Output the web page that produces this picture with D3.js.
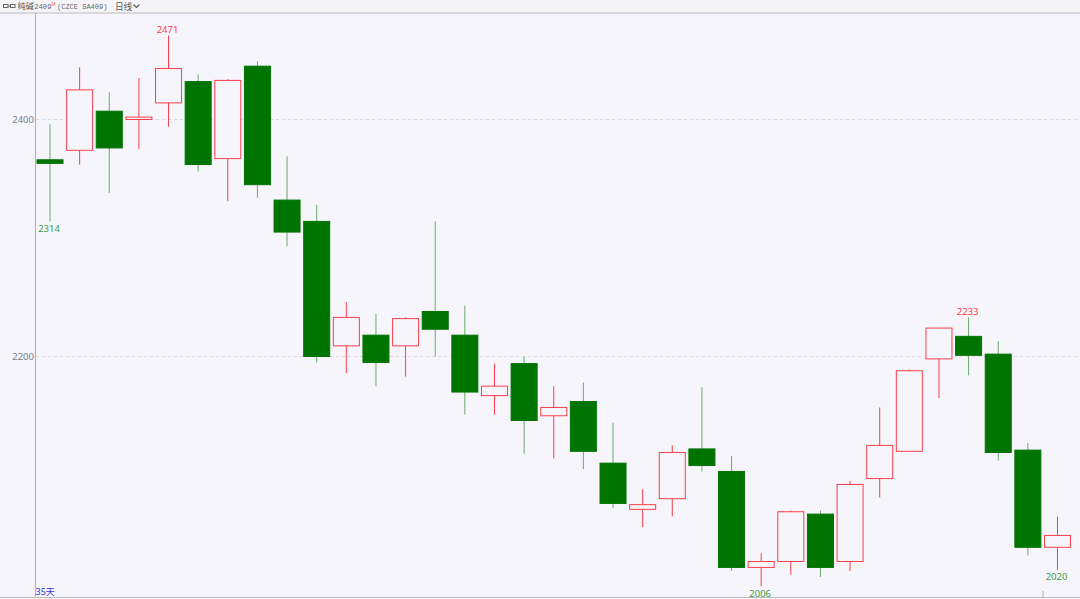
<!DOCTYPE html>
<html><head><meta charset="utf-8">
<script src="https://cdnjs.cloudflare.com/ajax/libs/d3/7.8.5/d3.min.js"></script>
<style>html,body{margin:0;padding:0;background:#f5f5fb;overflow:hidden}svg{display:block}text{font-family:"Noto Sans","Noto Sans CJK SC",sans-serif}</style>
</head><body><svg id="c" width="1080" height="599"></svg>
<script>
const sessions = d3.range(1, 36);
const open  = [2366,2374,2407,2400,2414,2432,2367,2445,2332,2314,2209,2218,2209,2238,2218,2167,2194,2150,2162,2110,2071,2080,2122,2103,2022,2027,2067,2027,2097,2120,2198,2217,2202,2121,2039];
const close = [2363,2425,2376,2402,2443,2362,2433,2345,2305,2200,2233,2195,2232,2223,2170,2175,2146,2157,2120,2076,2075,2119,2108,2022,2027,2069,2022,2092,2125,2188,2224,2201,2119,2039,2049];
const high  = [2396,2444,2423,2435,2471,2438,2434,2449,2369,2328,2246,2236,2233,2314,2243,2194,2200,2175,2178,2144,2088,2125,2174,2116,2034,2070,2070,2095,2157,2189,2224,2233,2213,2127,2065];
const low   = [2314,2362,2338,2375,2394,2356,2331,2334,2293,2195,2186,2175,2183,2200,2151,2151,2118,2114,2105,2072,2056,2065,2103,2019,2006,2016,2014,2019,2081,2120,2165,2184,2112,2032,2020];
const yTicks = [2400, 2200];
const extremes = [
  {i:0, v:2314, dir:"low", label:"2314"},
  {i:4, v:2471, dir:"high", label:"2471"},
  {i:24, v:2006, dir:"low", label:"2006"},
  {i:31, v:2233, dir:"high", label:"2233"},
  {i:34, v:2020, dir:"low", label:"2020"}
];
const RED = "#f8404a", GREEN = "#007400", GREENW = "#6aab6b";

const svg = d3.select("#c");
const y = d3.scaleLinear().domain([2400, 2200]).range([119.5, 356.5]);
const x = d3.scalePoint().domain(sessions).range([50, 1057.5]);
const bw = 27;

svg.selectAll("line.grid").data(yTicks).join("line")
  .attr("x1", 36).attr("x2", 1080).attr("y1", d => y(d)).attr("y2", d => y(d))
  .attr("stroke", "#d9d9df").attr("stroke-dasharray", "3,3");

svg.append("rect").attr("x",0).attr("y",0).attr("width",1080).attr("height",12.5).attr("fill","#f5f5f8");
svg.append("line").attr("x1",0).attr("x2",1080).attr("y1",13).attr("y2",13).attr("stroke","#b9b9c0").attr("stroke-width",1.2);
svg.append("line").attr("x1",35.5).attr("x2",35.5).attr("y1",13).attr("y2",597).attr("stroke","#b4b4ba").attr("stroke-width",1.2);
svg.append("line").attr("x1",0).attr("x2",1080).attr("y1",597.5).attr("y2",597.5).attr("stroke","#bdbdc3").attr("stroke-width",1.2);
svg.append("line").attr("x1",1043).attr("x2",1043).attr("y1",591).attr("y2",597).attr("stroke","#a8a8ae");

svg.selectAll("text.yt").data(yTicks).join("text")
  .attr("x", 34).attr("y", d => y(d) + 3.5).attr("text-anchor","end")
  .attr("font-size", 9.5).attr("fill","#7d7d85").text(d => d);

const g = svg.selectAll("g.k").data(sessions).join("g").attr("class","k");
const isUp = i => close[i] >= open[i];
g.append("line")
  .attr("x1", d => x(d)).attr("x2", d => x(d))
  .attr("y1", (d,i) => y(high[i])).attr("y2", (d,i) => y(low[i]))
  .attr("stroke", (d,i) => isUp(i) ? RED : GREENW)
  .attr("stroke-width", 1);
g.append("rect")
  .attr("x", d => x(d) - bw/2 + .5)
  .attr("width", bw - 1)
  .attr("y", (d,i) => y(Math.max(open[i], close[i])))
  .attr("height", (d,i) => Math.max(1, Math.abs(y(open[i]) - y(close[i]))))
  .attr("fill", (d,i) => isUp(i) ? "#f5f5fb" : GREEN)
  .attr("stroke", (d,i) => isUp(i) ? RED : GREEN)
  .attr("stroke-width", 1);

svg.selectAll("text.ex").data(extremes).join("text")
  .attr("x", d => x(sessions[d.i]) - 1)
  .attr("y", d => d.dir === "high" ? y(d.v) - 2 : y(d.v) + 10.5)
  .attr("text-anchor","middle").attr("font-size",9.5)
  .attr("fill", d => d.dir === "high" ? RED : "#3f9a45").text(d => d.label);

const h = svg.append("g");
h.append("rect").attr("x",3.5).attr("y",4.5).attr("width",4.5).attr("height",3).attr("fill","none").attr("stroke","#666");
h.append("rect").attr("x",10.5).attr("y",4.5).attr("width",4.5).attr("height",3).attr("fill","none").attr("stroke","#666");
h.append("line").attr("x1",8).attr("x2",10.5).attr("y1",6).attr("y2",6).attr("stroke","#666");
h.append("text").attr("x",17.5).attr("y",9).attr("font-size",8.2).attr("fill","#555").text("纯碱");
h.append("text").attr("x",34.2).attr("y",9).attr("font-size",7.2).attr("fill","#666").style("font-family","'Liberation Mono',monospace").text("2409");
h.append("text").attr("x",51.5).attr("y",6).attr("font-size",4.5).attr("fill","#f06060").text("M");
h.append("text").attr("x",57).attr("y",9).attr("font-size",7).attr("fill","#666").style("font-family","'Liberation Mono',monospace").text("(CZCE SA409)");
h.append("text").attr("x",115).attr("y",9.5).attr("font-size",8.6).attr("fill","#555").text("日线");
h.append("path").attr("d", d3.line()([[133.5,4.5],[136.5,7.5],[139.5,4.5]])).attr("fill","none").attr("stroke","#555").attr("stroke-width",1.1);

svg.append("text").attr("x",35.5).attr("y",595).attr("font-size",9).attr("fill","#3434c8").text("35天");
</script></body></html>
